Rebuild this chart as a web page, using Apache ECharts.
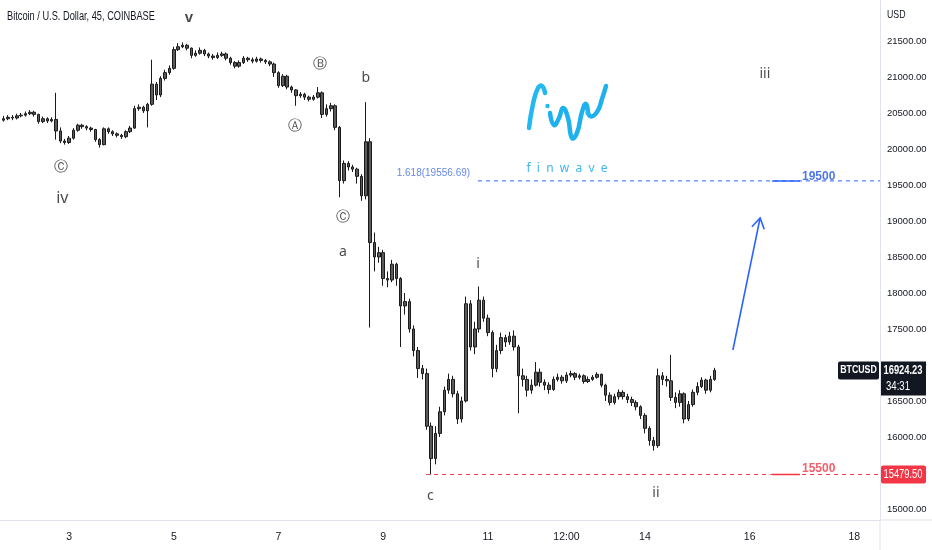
<!DOCTYPE html>
<html><head><meta charset="utf-8">
<script src="https://cdn.jsdelivr.net/npm/echarts@6/dist/echarts.min.js"></script>
<style>html,body{margin:0;padding:0;background:#fff}#c{width:932px;height:550px}</style>
</head><body><div id="c"></div>
<script>
// ---- data (2-hour bars) ----
const startDay = 1.75;            // first bar time (day of month)
const stepDay = 1 / 12;           // 2-hour bars
const firstOpen = 20400;
const closes = [
20420,20440,20430,20460,20470,20490,20510,20480,20380,20420,
20390,20410,20250,20110,20090,20150,20260,20330,20310,20290,
20270,20130,20060,20280,20240,20210,20190,20170,20240,20290,
20560,20580,20530,20620,20900,20750,20980,21060,21120,21380,
21420,21440,21400,21300,21330,21370,21320,21290,21270,21300,
21320,21260,21200,21150,21200,21260,21240,21220,21250,21230,
21210,21180,21060,20880,21010,20860,20820,20740,20760,20720,
20690,20720,20780,20480,20560,20600,20300,19560,19800,19750,
19720,19620,19350,20100,18700,18500,18560,18200,18180,18400,
18200,17820,17880,17500,17200,16950,16880,16150,15700,16050,
16350,16650,16800,16600,16250,16500,17850,17250,17500,17900,
17650,17450,16950,17200,17380,17320,17400,17250,16850,16800,
16650,16720,16900,16760,16720,16660,16800,16830,16780,16860,
16880,16830,16850,16770,16800,16830,16870,16720,16580,16480,
16560,16620,16560,16520,16480,16420,16300,16120,15950,15880,
16850,16800,16780,16550,16480,16600,16250,16450,16620,16700,
16790,16650,16800,16924.23
];
const highs = [
20460,20470,20470,20490,20500,20520,20540,20530,20490,20450,
20440,20440,20780,20300,20140,20180,20290,20350,20350,20330,
20310,20280,20150,20300,20300,20260,20230,20210,20260,20320,
20600,20620,20600,20640,21240,20930,21010,21100,21160,21420,
21470,21480,21460,21410,21370,21410,21390,21340,21320,21340,
21350,21340,21280,21220,21230,21290,21280,21270,21280,21270,
21250,21230,21200,21080,21040,21030,20880,20830,20790,20780,
20740,20750,20860,20800,20620,20640,20620,20320,19840,19830,
19780,19740,19650,20650,20150,18840,18640,18600,18300,18460,
18420,18220,18000,17920,17550,17250,17000,16950,16200,16150,
16420,16700,16880,16850,16640,16560,17950,17900,17600,18090,
17950,17700,17480,17280,17450,17420,17460,17480,17280,16950,
16850,16800,17040,16950,16800,16760,16840,16880,16860,16900,
16920,16900,16880,16870,16840,16860,16900,16880,16740,16620,
16600,16660,16650,16600,16560,16510,16440,16330,16150,16000,
16950,16900,16850,17140,16620,16650,16620,16500,16660,16760,
16830,16810,16850,16960
];
const lows = [
20380,20400,20400,20410,20440,20450,20470,20450,20350,20360,
20360,20370,20130,20080,20060,20070,20130,20240,20280,20260,
20240,20100,20020,20050,20210,20180,20160,20140,20150,20220,
20280,20530,20500,20300,20600,20680,20720,20950,21030,21100,
21360,21400,21370,21260,21280,21310,21290,21260,21240,21250,
21280,21230,21170,21120,21130,21180,21210,21190,21200,21200,
21180,21150,21000,20850,20860,20830,20780,20600,20710,20680,
20660,20670,20700,20430,20450,20520,20260,19330,19520,19700,
19680,19520,19280,19300,17520,18300,18420,18100,18080,18150,
18100,17250,17700,17450,17120,16820,16800,16100,15480,15620,
16000,16300,16600,16550,16180,16200,16480,17200,17150,17450,
17600,17400,16830,16900,17150,17250,17280,17200,16330,16700,
16560,16600,16700,16700,16650,16600,16640,16770,16740,16750,
16830,16790,16800,16740,16750,16780,16810,16690,16500,16440,
16450,16520,16520,16470,16430,16370,16250,16050,15880,15810,
15850,16720,16700,16500,16400,16420,16190,16220,16420,16580,
16680,16600,16620,16780
];
// x axis ticks (days) and y axis ticks (USD)
const dayTicks = [3, 5, 7, 9, 11, 12.5, 14, 16, 18];
const dayTickLabels = ['3', '5', '7', '9', '11', '12:00', '14', '16', '18'];
const priceTicks = [15000,15500,16000,16500,17000,17500,18000,18500,19000,19500,20000,20500,21000,21500];
// annotation levels
const fibLevel = 19556.69;
const lowLevel = 15479.5;
const lastPrice = 16924.23;
const fibStartDay = 10.81;
const lowStartDay = 9.82;
const targetSegDays = [16.43, 16.96];
// projection arrow [fromDay, fromPrice, toDay, toPrice]
const arrowPts = [15.68, 17208, 16.20, 19042];
// wave labels [text, day, price]
const waveLabels = [
  ['v', 5.29, 21819], ['\u24B8', 2.85, 19750], ['iv', 2.87, 19319],
  ['\u24B7', 7.79, 21181], ['\u24B6', 7.32, 20319], ['b', 8.67, 20986],
  ['\u24B8', 8.23, 19056], ['a', 8.23, 18569], ['i', 10.81, 18403],
  ['c', 9.90, 15181], ['ii', 14.21, 15222], ['iii', 16.29, 21042]
];
const xMin = 1.68, xMax = 18.49, yMin = 14847, yMax = 22069;

// ---- build ----
const ohlc = closes.map((c, i) => {
  const o = i === 0 ? firstOpen : closes[i - 1];
  return [startDay + i * stepDay, o, c, lows[i], highs[i]];
});
const SANS = "'Liberation Sans',Arial,sans-serif";
const BLUE = '#2962ff', RED = '#f23645';

const labelData = waveLabels.map(w => ({
  value: [w[1], w[2]],
  label: {
    formatter: w[0],
    fontSize: w[0] === 'v' ? 15 : (w[0] === 'iv' ? 16 : 14),
    fontWeight: w[0] === 'v' ? 'bold' : 'normal',
    fontFamily: w[0] === 'v' ? SANS : "'Noto Sans',sans-serif",
    color: '#1a1a1a'
  }
}));

const textMarks = [
  {value: [10.66, 19667], label: {formatter: '1.618(19556.69)', align: 'right', fontSize: 10, color: '#3d6ae0', fontFamily: SANS}},
  {value: [17.00, 19611], label: {formatter: '19500', align: 'left', fontSize: 12, fontWeight: 'bold', color: '#1f55e6', fontFamily: SANS}},
  {value: [17.00, 15556], label: {formatter: '15500', align: 'left', fontSize: 12, fontWeight: 'bold', color: RED, fontFamily: SANS}}
];

const levelLine = (d0, d1, lvl, color, type, width) => ({
  type: 'line', silent: true, symbol: 'none', animation: false,
  data: [[d0, lvl], [d1, lvl]],
  lineStyle: {color: color, type: type, width: width},
  z: 3
});

const chart = echarts.init(document.getElementById('c'), null, {renderer: 'canvas'});
chart.setOption({
  animation: false,
  backgroundColor: '#fff',
  grid: {left: 0, right: 52, top: 0, bottom: 30, containLabel: false, outerBoundsMode: 'none'},
  xAxis: {
    type: 'value', min: xMin, max: xMax,
    axisLine: {show: true, lineStyle: {color: '#e0e3eb'}},
    axisTick: {show: false},
    splitLine: {show: false},
    axisLabel: {
      customValues: dayTicks, margin: 12,
      formatter: v => dayTickLabels[dayTicks.indexOf(v)] || '',
      fontSize: 10.5, color: '#131722', fontFamily: SANS
    }
  },
  yAxis: {
    type: 'value', position: 'right', min: yMin, max: yMax,
    axisLine: {show: true, lineStyle: {color: '#e0e3eb'}},
    axisTick: {show: false},
    splitLine: {show: false},
    axisLabel: {
      customValues: priceTicks, margin: 7,
      formatter: v => v.toFixed(2), fontSize: 9.5, color: '#131722', fontFamily: SANS
    }
  },
  series: [
    {
      type: 'candlestick',
      data: ohlc,
      encode: {x: 0, y: [1, 2, 3, 4]},
      barWidth: 3,
      itemStyle: {color: '#5a5a5a', color0: '#5a5a5a', borderColor: '#1a1a1a', borderColor0: '#1a1a1a', borderWidth: 1}
    },
    levelLine(fibStartDay, xMax, fibLevel, BLUE, [4, 4], 1),
    levelLine(lowStartDay, xMax, lowLevel, RED, [4, 4], 1),
    levelLine(targetSegDays[0], targetSegDays[1], fibLevel, BLUE, 'solid', 1.5),
    levelLine(targetSegDays[0], targetSegDays[1], lowLevel, RED, 'solid', 1.5),
    {
      type: 'scatter', symbolSize: 0, silent: true,
      label: {show: true, position: 'inside'},
      data: labelData.concat(textMarks)
    },
    {
      type: 'custom', silent: true,
      data: [arrowPts],
      renderItem: (params, api) => {
        const p1 = api.coord([api.value(0), api.value(1)]);
        const p2 = api.coord([api.value(2), api.value(3)]);
        const ang = Math.atan2(p2[1] - p1[1], p2[0] - p1[0]);
        const L = 12, a = 0.55;
        const h1 = [p2[0] - L * Math.cos(ang - a), p2[1] - L * Math.sin(ang - a)];
        const h2 = [p2[0] - L * Math.cos(ang + a), p2[1] - L * Math.sin(ang + a)];
        const st = {stroke: BLUE, lineWidth: 1.6, fill: null};
        return {type: 'group', children: [
          {type: 'line', shape: {x1: p1[0], y1: p1[1], x2: p2[0], y2: p2[1]}, style: st},
          {type: 'polyline', shape: {points: [h1, p2, h2]}, style: st}
        ]};
      }
    }
  ]
});

// axis boxes & decoration positioned through the chart's scales
const yLast = chart.convertToPixel({yAxisIndex: 0}, lastPrice);
const yLow = chart.convertToPixel({yAxisIndex: 0}, lowLevel);
const axX = chart.convertToPixel({xAxisIndex: 0}, xMax);
const bottomY = chart.convertToPixel({yAxisIndex: 0}, yMin);
const logoPts = [[529,128],[533,104],[538,88],[542,86],[545,93]];
const logoPts2 = [[550,113],[554,125],[559,118],[563,108],[568,118],[572,138],[577,133],[582,112],[586,104],[590,116],[597,112],[602,99],[606,86]];
const narrowText = (x, y, text, font, fill, align, sx) => ({
  type: 'text', x: x, y: y, scaleX: sx, originX: 0, originY: 0, z: 101,
  style: {text: text, font: font, fill: fill, align: align, verticalAlign: 'middle'}
});
chart.setOption({
  graphic: [
    narrowText(7, 17, 'Bitcoin / U.S. Dollar, 45, COINBASE', '12px ' + SANS, '#131722', 'left', 0.77),
    narrowText(887, 15, 'USD', '11px ' + SANS, '#131722', 'left', 0.8),
    {type: 'line', shape: {x1: axX, y1: bottomY, x2: 932, y2: bottomY}, style: {stroke: '#e0e3eb', lineWidth: 1}},
    {type: 'line', shape: {x1: axX, y1: bottomY, x2: axX, y2: 550}, style: {stroke: '#e0e3eb', lineWidth: 1}},
    // last price boxes
    {type: 'rect', z: 100, shape: {x: 838, y: yLast - 9, width: 41, height: 18, r: 2}, style: {fill: '#131722'}},
    narrowText(858.5, yLast, 'BTCUSD', 'bold 11px ' + SANS, '#fff', 'center', 0.8),
    {type: 'rect', z: 100, shape: {x: axX + 1, y: yLast - 9, width: 45, height: 34}, style: {fill: '#131722'}},
    narrowText(axX + 23, yLast, '16924.23', 'bold 12px ' + SANS, '#fff', 'center', 0.78),
    narrowText(axX + 18, yLast + 16, '34:31', '12px ' + SANS, '#fff', 'center', 0.8),
    // low level box
    {type: 'rect', z: 100, shape: {x: axX + 1, y: yLow - 9, width: 45, height: 18, r: 2}, style: {fill: RED}},
    narrowText(axX + 23, yLow, '15479.50', '12px ' + SANS, '#fff', 'center', 0.78),
    // finwave logo
    {type: 'polyline', shape: {points: logoPts, smooth: 0.5}, style: {stroke: '#22b8f0', lineWidth: 4.5, lineCap: 'round', fill: null}},
    {type: 'polyline', shape: {points: logoPts2, smooth: 0.5}, style: {stroke: '#1fb0ee', lineWidth: 4.5, lineCap: 'round', lineJoin: 'round', fill: null}},
    {type: 'circle', shape: {cx: 547.5, cy: 106, r: 2.2}, style: {fill: '#22b8f0'}},
    {type: 'circle', shape: {cx: 587.5, cy: 113, r: 2.2}, style: {fill: '#22b8f0'}},
    {type: 'text', x: 567, y: 169, style: {text: 'f  i  n  w  a  v  e', font: "12px 'Noto Sans',sans-serif", fill: '#3cb7ee', align: 'center', verticalAlign: 'middle'}}
  ]
});
</script></body></html>
